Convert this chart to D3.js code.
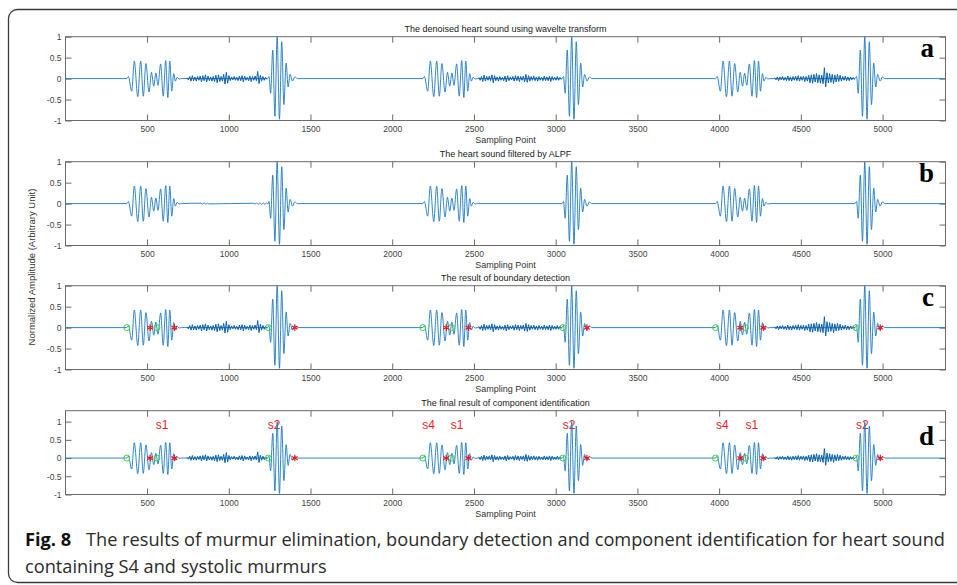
<!DOCTYPE html>
<html>
<head>
<meta charset="utf-8">
<script src="https://cdn.jsdelivr.net/npm/d3@7"></script>
<style>
  body { margin: 0; background: #fff; }
  svg { display: block; }
</style>
</head>
<body>
<div id="chart"></div>
<script>
// ---- data (sample index, normalized amplitude) ----
const xTicks = [500, 1000, 1500, 2000, 2500, 3000, 3500, 4000, 4500, 5000];
const yTicks = [-1, -0.5, 0, 0.5, 1];

// onsets of the low-frequency group (s4) and of s2 in each cardiac cycle
const s4Onset = [376, 2187, 3978];
const s2Onset = [1242, 3044, 4837];

// oscillation extremes of the s4 + s1 groups, relative to s4 onset
const s4s1Peaks = [
  [0, 0], [10, 0.05], [30, -0.3], [46, 0.42], [67, -0.43], [85, 0.42], [101, -0.42],
  [117, 0.36], [136, -0.32], [151, 0.15], [165, -0.18], [178, 0.13], [191, -0.16],
  [207, 0.35], [223, -0.42], [238, 0.43], [251, -0.45], [263, 0.42], [275, -0.3],
  [287, 0.12], [297, -0.06], [308, 0.03], [320, -0.01], [334, 0]
];
// oscillation extremes of s2, relative to s2 onset
const s2Peaks = [
  [-6, 0], [4, 0.05], [14, -0.35], [27, 0.68], [40, -0.9], [54, 1.0], [68, -0.97], [82, 0.88],
  [95, -0.62], [109, 0.37], [121, -0.2], [133, 0.1], [148, -0.06], [162, 0.04], [178, 0]
];

// systolic murmur extremes (every 8 samples from murmurStart)
const murmurStart = [745, 2530, 4340];
const murmurStep = 8;
const murmur1 = [0.02,-0.03,0.05,-0.06,0.07,-0.05,0.04,-0.06,0.05,-0.04,
  0.06,-0.08,0.07,-0.05,0.09,-0.08,0.06,-0.05,0.04,-0.06,
  0.05,-0.07,0.08,-0.1,0.09,-0.07,0.05,-0.06,0.1,-0.13,
  0.15,-0.11,0.07,-0.05,0.04,-0.03,0.05,-0.04,0.03,-0.05,
  0.06,-0.05,0.07,-0.08,0.06,-0.04,0.03,-0.05,0.06,-0.07,
  0.05,-0.04,0.06,-0.05,0.17,-0.12,0.08,-0.06,0.05,-0.04,
  0.03,-0.02];
const murmur2 = [0.03,-0.04,0.05,-0.07,0.08,-0.06,0.05,-0.04,0.06,-0.05,
  0.09,-0.1,0.07,-0.05,0.04,-0.06,0.05,-0.04,0.03,-0.05,
  0.06,-0.08,0.07,-0.05,0.04,-0.03,0.05,-0.06,0.07,-0.05,
  0.06,-0.07,0.05,-0.04,0.06,-0.08,0.1,-0.09,0.07,-0.06,
  0.05,-0.04,0.06,-0.05,0.04,-0.06,0.05,-0.04,0.03,-0.05,
  0.06,-0.05,0.04,-0.05,0.06,-0.07,0.05,-0.04,0.03,-0.04,
  0.05,-0.04,0.03,-0.02];
const murmur3 = [0.02,-0.03,0.04,-0.05,0.04,-0.03,0.05,-0.04,0.03,-0.05,
  0.06,-0.05,0.04,-0.06,0.05,-0.04,0.06,-0.05,0.07,-0.06,
  0.05,-0.04,0.06,-0.07,0.05,-0.06,0.08,-0.1,0.09,-0.11,
  0.1,-0.08,0.12,-0.1,0.09,-0.11,0.08,-0.12,0.26,-0.2,
  0.14,-0.1,0.12,-0.09,0.1,-0.12,0.09,-0.08,0.1,-0.07,
  0.08,-0.06,0.05,-0.04,0.06,-0.05,0.04,-0.05,0.04,-0.03,
  0.03,-0.02];
const murmurs = [murmur1, murmur2, murmur3];

// faint residue left after the ALPF (every 10 samples)
const rippleStart = [830, 1150];
const rippleStep = 10;
const ripples = [
  [0.01, -0.012, 0.014, -0.012, 0.01, -0.008],
  [0.008, -0.01, 0.012, -0.015, 0.018, -0.02, 0.02, -0.018, 0.015, -0.01]
];

// detected boundaries
const onsets = [376, 560, 1242, 2187, 2362, 3044, 3978, 4162, 4837];
const offsets = [518, 667, 1404, 2330, 2466, 3191, 4129, 4270, 4986];

// component labels in panel d
const compNames = ["s1", "s2", "s4", "s1", "s2", "s4", "s1", "s2"];
const compPos = [592, 1277, 2223, 2397, 3082, 4019, 4200, 4876];

const titles = [
  "The denoised heart sound using wavelte transform",
  "The heart sound filtered by ALPF",
  "The result of boundary detection",
  "The final result of component identification"
];
const panelLetters = ["a", "b", "c", "d"];

// ---- layout ----
const width = 957, height = 585;
const plotLeft = 65.5, plotRight = 945.5, plotH = 83.8;
const panelTops = [36.7, 161.7, 285.7, 410.7];
const letterBase = [57, 182, 306, 445];
const blue = "#1b78c2";
const murmurBlue = "#0b62ad";
const axisFont = "'Liberation Sans', Arial, sans-serif";

const svg = d3.select("#chart").append("svg")
    .attr("width", width)
    .attr("height", height);

// frame round the figure
svg.append("rect")
    .attr("x", 8.5).attr("y", 9.5)
    .attr("width", 1000).attr("height", 573)
    .attr("rx", 9)
    .attr("fill", "none")
    .attr("stroke", "#3a3a3a")
    .attr("stroke-width", 1.3);

const x = d3.scaleLinear().domain([1, 5385]).range([plotLeft, plotRight]);

// heart sounds only (the murmur is drawn as its own path)
function buildSignal(kind) {
    const pts = [[1, 0]];
    for (let i = 0; i < 3; i++) {
        s4s1Peaks.forEach(([dx, v]) => pts.push([s4Onset[i] + dx, v]));
        if (kind === "b" && i === 0) {
            ripples.forEach((r, k) => r.forEach((v, j) => pts.push([rippleStart[k] + j * rippleStep, v])));
        }
        s2Peaks.forEach(([dx, v]) => pts.push([s2Onset[i] + dx, v]));
    }
    pts.push([5385, 0]);
    return pts.sort((p, q) => p[0] - q[0]);
}

panelLetters.forEach((key, pi) => {
    const top = panelTops[pi];
    const bottom = top + plotH;
    const y = d3.scaleLinear()
        .domain(key === "d" ? [-1, 1.3] : [-1, 1])
        .range([bottom, top]);

    const g = svg.append("g");

    g.append("clipPath").attr("id", "clip" + key)
        .append("rect")
        .attr("x", plotLeft).attr("y", top)
        .attr("width", plotRight - plotLeft).attr("height", plotH);

    // axes (ticks pointing inwards on all four sides)
    g.append("g")
        .attr("transform", `translate(0,${bottom})`)
        .call(d3.axisBottom(x).tickValues(xTicks).tickSize(-6).tickSizeOuter(0)
            .tickPadding(5).tickFormat(d3.format("d")));
    g.append("g")
        .attr("transform", `translate(0,${top})`)
        .call(d3.axisTop(x).tickValues(xTicks).tickSize(-6).tickSizeOuter(0).tickFormat(""));
    g.append("g")
        .attr("transform", `translate(${plotLeft},0)`)
        .call(d3.axisLeft(y).tickValues(yTicks).tickSize(-6).tickSizeOuter(0).tickPadding(4)
            .tickFormat(d => String(d)));
    g.append("g")
        .attr("transform", `translate(${plotRight},0)`)
        .call(d3.axisRight(y).tickValues(yTicks).tickSize(-6).tickSizeOuter(0).tickFormat(""));

    g.selectAll(".domain").remove();
    g.selectAll(".tick line").attr("stroke", "#6a6a6a");
    g.selectAll(".tick text")
        .attr("font-family", axisFont)
        .attr("font-size", 8.5)
        .attr("fill", "#444");

    g.append("rect")
        .attr("x", plotLeft).attr("y", top)
        .attr("width", plotRight - plotLeft).attr("height", plotH)
        .attr("fill", "none")
        .attr("stroke", "#6a6a6a")
        .attr("stroke-width", 1);

    // title and x label
    g.append("text")
        .attr("x", (plotLeft + plotRight) / 2)
        .attr("y", top - 4.5)
        .attr("text-anchor", "middle")
        .attr("font-family", axisFont)
        .attr("font-size", 9)
        .attr("fill", "#1a1a1a")
        .text(titles[pi]);

    g.append("text")
        .attr("x", (plotLeft + plotRight) / 2)
        .attr("y", bottom + 22.5)
        .attr("text-anchor", "middle")
        .attr("font-family", axisFont)
        .attr("font-size", 9)
        .attr("fill", "#333")
        .text("Sampling Point");

    // component labels (panel d)
    if (key === "d") {
        g.selectAll(".comp")
            .data(compNames)
            .join("text")
            .attr("class", "comp")
            .attr("x", (d, i) => x(compPos[i]))
            .attr("y", y(0.8))
            .attr("text-anchor", "middle")
            .attr("font-family", axisFont)
            .attr("font-size", 12)
            .attr("fill", "#f01e1e")
            .text(d => d);
    }

    // signal
    const smooth = d3.line()
        .x(d => x(d[0]))
        .y(d => y(d[1]))
        .curve(d3.curveMonotoneX);

    g.append("path")
        .datum(buildSignal(key))
        .attr("clip-path", `url(#clip${key})`)
        .attr("fill", "none")
        .attr("stroke", blue)
        .attr("stroke-width", 0.9)
        .attr("d", smooth);

    // murmur (absent after the ALPF)
    if (key !== "b") {
        const jagged = d3.line()
            .x(d => x(murmurStart[d.c] + d.j * murmurStep))
            .y(d => y(d.v));
        murmurs.forEach((m, c) => {
            g.append("path")
                .datum(m.map((v, j) => ({ c, j, v })))
                .attr("fill", "none")
                .attr("stroke", murmurBlue)
                .attr("stroke-width", 1)
                .attr("d", jagged);
        });
    }

    // boundary markers (panels c and d)
    if (key === "c" || key === "d") {
        g.selectAll(".on")
            .data(onsets)
            .join("circle")
            .attr("class", "on")
            .attr("cx", d => x(d))
            .attr("cy", y(0))
            .attr("r", 3)
            .attr("fill", "none")
            .attr("stroke", "#3ad43a")
            .attr("stroke-width", 1);
        g.selectAll(".off")
            .data(offsets)
            .join("path")
            .attr("class", "off")
            .attr("transform", d => `translate(${x(d)},${y(0)})`)
            .attr("d", d3.symbol(d3.symbolAsterisk, 30)())
            .attr("fill", "none")
            .attr("stroke", "#f01010")
            .attr("stroke-width", 1.1);
    }

    // panel letter
    g.append("text")
        .attr("x", 934)
        .attr("y", letterBase[pi])
        .attr("text-anchor", "end")
        .attr("font-family", "'Liberation Serif', 'DejaVu Serif', serif")
        .attr("font-weight", "bold")
        .attr("font-size", 27)
        .attr("fill", "#000")
        .text(key);
});

// shared y label
svg.append("text")
    .attr("transform", "translate(35,267) rotate(-90)")
    .attr("text-anchor", "middle")
    .attr("font-family", axisFont)
    .attr("font-size", 9.5)
    .attr("fill", "#333")
    .text("Normalized Amplitude (Arbitrary Unit)");

// caption
const capFont = "'Open Sans', 'Noto Sans', sans-serif";
const capLine1 = "The results of murmur elimination, boundary detection and component identification for heart sound";
const capLine2 = "containing S4 and systolic murmurs";

const probe = svg.append("text")
    .attr("font-family", capFont)
    .attr("font-size", 20)
    .text(capLine1);
const capSize = 20 * 860 / probe.node().getComputedTextLength();
probe.remove();

svg.append("text")
    .attr("x", 25).attr("y", 546)
    .attr("font-family", capFont)
    .attr("font-size", capSize)
    .attr("font-weight", "bold")
    .attr("fill", "#111")
    .text("Fig. 8");

svg.append("text")
    .attr("x", 86).attr("y", 546)
    .attr("font-family", capFont)
    .attr("font-size", capSize)
    .attr("fill", "#2b2b2b")
    .text(capLine1);

svg.append("text")
    .attr("x", 25).attr("y", 573)
    .attr("font-family", capFont)
    .attr("font-size", capSize)
    .attr("fill", "#2b2b2b")
    .text(capLine2);
</script>
</body>
</html>
